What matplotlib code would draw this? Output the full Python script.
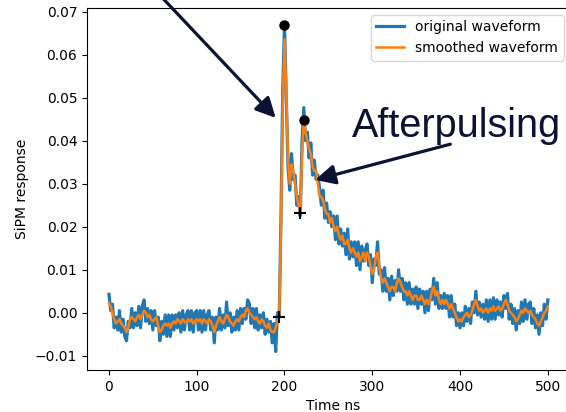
import matplotlib
matplotlib.use("Agg")
import matplotlib.pyplot as plt
import numpy as np

# time axis in ns, sampled every 2 ns
t_start, t_stop, t_step = 0, 500, 2

# waveform values in units of 1e-3
original_mv = [
    4.3, 0.5, 2.0, -3.5, -1.0, -4.0, 0.5, -4.5, -1.5, -5.5,
    -6.5, -2.0, -3.5, 1.0, -3.5, 0.0, -3.0, 1.5, -3.5, 1.5,
    3.0, -2.0, 1.0, -2.5, 0.5, -4.0, 0.5, -3.0, -1.0, -6.5,
    -2.0, -5.0, -0.5, -5.5, -0.5, -5.5, -0.5, -4.0, -0.5, -3.5,
    0.0, -4.5, 0.5, -4.0, -0.5, 0.5, -4.0, 0.5, -4.5, 0.0,
    0.5, -4.0, 0.5, -4.5, 0.5, -4.0, -0.5, 0.5, -4.0, -1.0,
    -7.0, -1.0, -4.0, 1.0, -4.0, -0.5, -3.5, 2.5, -3.0, 0.0,
    -4.5, -1.0, -4.0, 0.5, -4.0, 1.0, -2.5, 1.0, -1.5, 3.0,
    2.0, -2.5, 1.0, -3.5, 1.0, -4.0, -0.5, -3.5, 0.0, -5.0,
    -1.5, -4.5, -2.0, -7.0, -2.5, -9.0, 0.0, -0.9, 22.0, 52.0,
    66.8, 50.0, 34.0, 28.5, 37.0, 31.0, 32.0, 25.0, 27.0, 22.5,
    40.0, 47.7, 40.0, 42.0, 36.0, 39.5, 32.0, 35.5, 31.0, 32.0,
    29.0, 25.0, 28.5, 22.0, 25.5, 21.0, 23.5, 20.0, 22.5, 17.0,
    22.5, 16.0, 19.5, 15.5, 18.5, 13.5, 19.5, 12.5, 16.5, 13.0,
    16.5, 11.0, 16.5, 10.0, 15.5, 12.0, 14.5, 16.0, 11.0, 13.5,
    7.0, 12.5, 11.0, 16.5, 9.0, 10.0, 5.0, 10.5, 5.0, 8.0,
    3.0, 8.5, 4.0, 7.5, 5.0, 10.0, 5.0, 8.0, 3.0, 7.0,
    2.0, 7.0, 2.0, 5.5, 2.0, 6.0, 1.0, 5.5, 2.0, 5.0,
    0.0, 5.0, 0.5, 5.5, 3.0, 8.0, 2.0, 7.0, 1.0, 4.0,
    1.0, 4.5, 1.0, 4.0, -1.0, 4.0, -1.0, 2.0, -3.0, 0.0,
    -3.5, 0.0, -3.0, 1.5, -2.0, 1.0, -2.5, 2.5, 0.0, 5.0,
    -0.5, 2.5, -1.0, 2.0, -1.5, 3.0, -2.0, 3.0, -1.5, 3.5,
    -1.5, 3.0, -0.5, 2.5, -1.0, 4.0, 1.0, 4.5, -1.5, 2.0,
    -2.5, 1.0, -4.0, 0.5, -2.5, 2.5, -2.0, 3.0, -1.5, 2.0,
    2.5, -2.5, 1.0, -3.5, -0.5, -5.0, 0.0, -3.0, 2.0, -1.5,
    3.0,
]

smoothed_mv = [
    2.3, 1.5, 0.0, -1.5, -2.5, -2.0, -1.5, -2.5, -3.0, -3.5,
    -4.5, -3.5, -1.5, -1.0, -1.5, -2.0, -1.0, -0.5, -1.5, -0.5,
    0.5, 0.0, -1.0, -0.5, -1.5, -2.0, -1.5, -1.0, -3.0, -4.5,
    -4.0, -3.0, -2.5, -3.0, -2.5, -3.5, -2.5, -2.0, -2.5, -1.5,
    -2.0, -2.5, -1.5, -2.0, -2.5, -1.5, -2.0, -1.5, -2.5, -2.0,
    -1.5, -2.0, -1.5, -2.5, -1.5, -2.0, -2.5, -1.5, -2.0, -3.0,
    -4.5, -3.0, -2.0, -1.0, -2.0, -2.5, -1.5, -0.5, -1.0, -2.0,
    -2.5, -3.0, -2.0, -1.5, -2.0, -1.0, -0.5, -1.0, 0.5, 1.0,
    0.0, -0.5, -1.0, -1.5, -1.0, -2.0, -2.5, -1.5, -2.0, -3.0,
    -3.5, -2.5, -4.0, -4.5, -4.5, -3.5, -2.0, -0.9, 20.0, 48.0,
    63.5, 52.0, 36.0, 30.0, 34.5, 33.0, 30.0, 27.0, 25.0, 23.3,
    37.0, 44.9, 42.0, 40.0, 38.0, 37.0, 34.0, 33.0, 33.0, 30.0,
    27.0, 27.0, 26.0, 24.0, 23.0, 23.0, 21.0, 22.0, 20.0, 19.0,
    20.0, 18.0, 17.0, 18.0, 16.0, 16.0, 17.0, 15.0, 14.0, 15.0,
    14.0, 13.0, 14.0, 12.0, 13.0, 14.0, 12.0, 14.0, 13.0, 11.0,
    9.0, 10.0, 13.0, 14.0, 11.0, 8.0, 7.0, 8.0, 7.0, 6.0,
    5.0, 6.0, 6.0, 5.0, 7.0, 8.0, 7.0, 6.0, 5.0, 5.0,
    4.0, 5.0, 4.0, 3.0, 4.0, 4.0, 3.0, 3.0, 4.0, 3.0,
    2.0, 3.0, 2.0, 3.0, 5.0, 6.0, 4.0, 5.0, 3.0, 2.0,
    3.0, 2.0, 3.0, 2.0, 1.0, 2.0, 1.0, 0.0, -1.0, -2.0,
    -1.5, -2.0, -1.0, -0.5, 0.0, -1.0, -0.5, 0.5, 2.0, 3.0,
    1.5, 0.5, 1.0, 0.0, 0.5, 1.0, 0.0, 1.0, 0.5, 1.5,
    0.5, 1.0, 1.5, 0.5, 1.0, 2.0, 3.0, 2.0, 0.5, 0.0,
    -0.5, -1.0, -2.0, -1.5, -0.5, 0.5, 0.0, 1.0, 0.5, 0.0,
    0.5, -0.5, -1.0, -1.5, -2.5, -3.0, -2.0, -1.0, 0.0, 0.5,
    1.5,
]

# detected peaks (dots) and pulse onsets (crosses)
peak_t = [200, 222]
peak_v = [0.0668, 0.0449]
onset_t = [194, 218]
onset_v = [-0.0009, 0.0233]

navy = "#0c1231"

t = np.arange(t_start, t_stop + t_step, t_step)
original = np.array(original_mv) * 1e-3
smoothed = np.array(smoothed_mv) * 1e-3

fig = plt.figure(figsize=(5.66, 4.12), dpi=100)
# the right spine sits just past the image edge, as in the cropped slide
ax = fig.add_axes([0.1537, 0.102, 0.87, 0.879])

ax.plot(t, original, color="C0", lw=2.3, label="original waveform")
ax.plot(t, smoothed, color="C1", lw=1.8, label="smoothed waveform")
ax.plot(peak_t, peak_v, "o", color="black", ms=6.5)
ax.plot(onset_t, onset_v, "+", color="black", ms=8, mew=1.5)

ax.set_xlim(-25, 536)
ax.set_ylim(-0.0133, 0.0709)
ax.set_xlabel("Time ns")
ax.set_ylabel("SiPM response")
ax.legend(loc="upper right", bbox_to_anchor=(0.982, 1.0))

# slide annotations
arrow = dict(arrowstyle="-|>,head_length=0.6,head_width=0.3", color=navy,
             lw=2.3, mutation_scale=20, shrinkA=0, shrinkB=0)
ax.annotate("", xy=(190, 0.0453), xytext=(55, 0.0745), arrowprops=arrow,
            annotation_clip=False)
ax.annotate("", xy=(235, 0.0309), xytext=(389, 0.0392), arrowprops=arrow,
            annotation_clip=False)
ax.text(277, 0.0409, "Afterpulsing", fontsize=28.5, family="Liberation Sans",
        color=navy, va="baseline", ha="left", clip_on=False)

fig.savefig("out.png", dpi=100)
